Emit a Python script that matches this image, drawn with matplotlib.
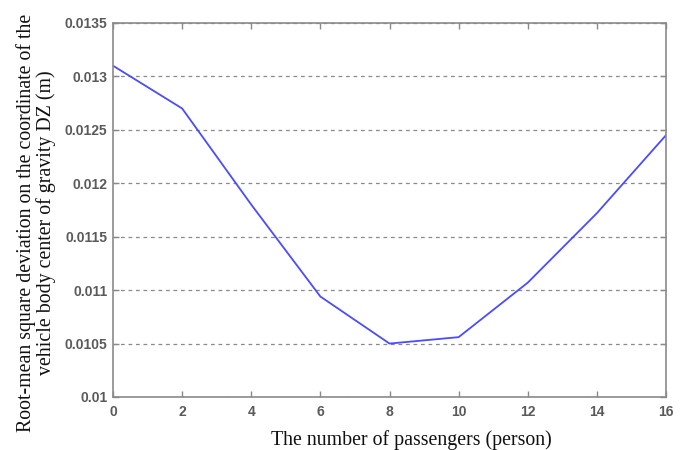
import matplotlib
matplotlib.use("Agg")
import matplotlib.pyplot as plt

passengers = [0, 2, 4, 6, 8, 10, 12, 14, 16]
rms_dz = [0.01310, 0.01270, 0.01180, 0.01094, 0.01050, 0.01056, 0.01107, 0.01172, 0.01245]
xticks = [0, 2, 4, 6, 8, 10, 12, 14, 16]
yticks = [0.01, 0.0105, 0.011, 0.0115, 0.012, 0.0125, 0.013, 0.0135]
ytick_labels = ["0.01", "0.0105", "0.011", "0.0115", "0.012", "0.0125", "0.013", "0.0135"]

fig = plt.figure(figsize=(6.9, 4.5), dpi=100)
ax = fig.add_axes([0.1638, 0.1178, 0.8014, 0.8311])

ax.plot(passengers, rms_dz, color="#4b4bff", lw=1.3)
ax.set_xlim(0, 16)
ax.set_ylim(0.01, 0.0135)
ax.set_xticks(xticks)
ax.set_xticklabels([str(t) for t in xticks])
ax.set_yticks(yticks)
ax.set_yticklabels(ytick_labels)

gray = "#8a8a8a"
for s in ax.spines.values():
    s.set_color(gray)
    s.set_linewidth(1.2)
ax.tick_params(axis="both", direction="in", length=4, width=1, color=gray,
               top=True, right=True, labelcolor="#5a5a5a", labelsize=10)
ax.tick_params(axis="x", pad=6)
ax.tick_params(axis="y", pad=4)
for lab in ax.get_xticklabels() + ax.get_yticklabels():
    lab.set_fontweight("bold")
    lab.set_family("Liberation Sans")

ax.yaxis.grid(True, linestyle=(0, (3, 3)), color="#8a8a8a", lw=0.9)
ax.set_axisbelow(True)

ax.set_xlabel("The number of passengers (person)", family="Liberation Serif",
              fontsize=14.3, color="#111111", labelpad=8)
ax.xaxis.label.set_x(0.54)
ax.set_ylabel("Root-mean square deviation on the coordinate of the\nvehicle body center of gravity DZ (m)",
              family="Liberation Serif", fontsize=14.3, color="#111111",
              labelpad=6, linespacing=1.0)
ax.yaxis.label.set_y(0.465)

fig.savefig("out.png", dpi=100)
